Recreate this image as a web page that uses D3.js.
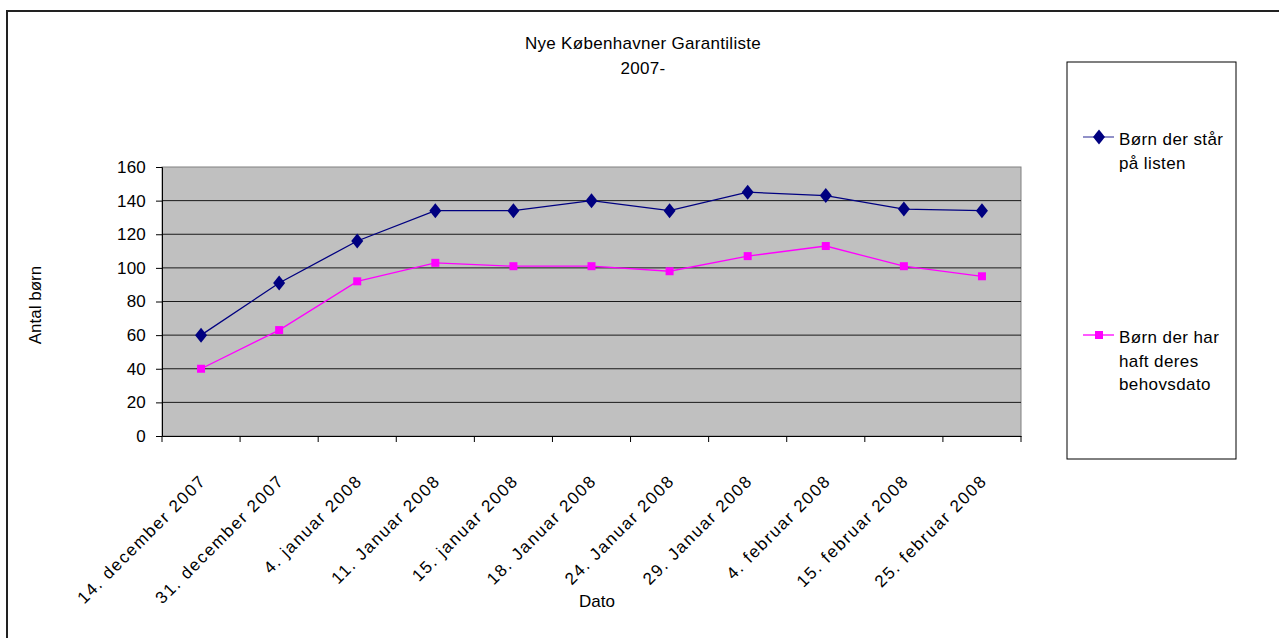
<!DOCTYPE html>
<html>
<head>
<meta charset="utf-8">
<script src="https://cdn.jsdelivr.net/npm/d3@7"></script>
<style>
  body { margin: 0; background: #fff; }
  text { font-family: "Liberation Sans", Arial, sans-serif; fill: #000; }
</style>
</head>
<body>
<div id="chart"></div>
<script>
const dates = ["14. december 2007", "31. december 2007", "4. januar 2008", "11. Januar 2008",
    "15. januar 2008", "18. Januar 2008", "24. Januar 2008", "29. Januar 2008",
    "4. februar 2008", "15. februar 2008", "25. februar 2008"];
const onList = [60, 91, 116, 134, 134, 140, 134, 145, 143, 135, 134];
const hadNeedDate = [40, 63, 92, 103, 101, 101, 98, 107, 113, 101, 95];
const yTicks = [0, 20, 40, 60, 80, 100, 120, 140, 160];
const seriesNames = [["Børn der står", "på listen"], ["Børn der har", "haft deres", "behovsdato"]];

const W = 1279, H = 638;
const plot = {left: 162, top: 167, right: 1021, bottom: 436};
const fs = 17;

const svg = d3.select("#chart").append("svg")
    .attr("width", W).attr("height", H);

// outer chart frame
svg.append("rect")
    .attr("x", 7).attr("y", 11).attr("width", W).attr("height", H)
    .attr("fill", "none").attr("stroke", "#222").attr("stroke-width", 2);

const x = d3.scaleBand().domain(dates).range([plot.left, plot.right]);
const y = d3.scaleLinear().domain([0, 160]).range([plot.bottom, plot.top]);

svg.append("rect")
    .attr("x", plot.left).attr("y", plot.top)
    .attr("width", plot.right - plot.left).attr("height", plot.bottom - plot.top)
    .attr("fill", "#c0c0c0").attr("stroke", "#808080").attr("stroke-width", 1);

// gridlines
svg.append("g").selectAll("line")
    .data(yTicks.filter(d => d > 0 && d < 160))
    .join("line")
    .attr("x1", plot.left).attr("x2", plot.right)
    .attr("y1", d => y(d)).attr("y2", d => y(d))
    .attr("stroke", "#1a1a1a").attr("stroke-width", 1);

// y axis
const yAxis = svg.append("g")
    .attr("transform", `translate(${plot.left},0)`)
    .call(d3.axisLeft(y).tickValues(yTicks).tickSize(6).tickPadding(10));
yAxis.select(".domain").attr("stroke", "#000");
yAxis.selectAll("text").attr("font-size", fs).attr("letter-spacing", 0.2)
    .style("font-family", null);

// x axis
const xAxis = svg.append("g")
    .attr("transform", `translate(0,${plot.bottom})`)
    .call(d3.axisBottom(x).tickSize(0).tickFormat(""));
xAxis.select(".domain").attr("stroke", "#000");
const edges = dates.map(d => x(d)).concat([plot.right]);
xAxis.selectAll(".edge").data(edges).join("line")
    .attr("x1", d => d).attr("x2", d => d)
    .attr("y1", 0).attr("y2", 6)
    .attr("stroke", "#000");

svg.append("g").selectAll("text")
    .data(dates)
    .join("text")
    .attr("transform", d => `translate(${x(d) + x.bandwidth() / 2 + 6},${plot.bottom + 46}) rotate(-45)`)
    .attr("text-anchor", "end")
    .attr("font-size", fs)
    .attr("letter-spacing", 1.6)
    .text(d => d);

// lines
const cx = i => x(dates[i]) + x.bandwidth() / 2;
const lineGen = d3.line()
    .x((d, i) => cx(i))
    .y(d => y(d));

svg.append("path").datum(onList)
    .attr("d", lineGen).attr("fill", "none")
    .attr("stroke", "#000080").attr("stroke-width", 1.3);
svg.append("path").datum(hadNeedDate)
    .attr("d", lineGen).attr("fill", "none")
    .attr("stroke", "#ff00ff").attr("stroke-width", 1.3);

const diamond = "M0,-7.5L6,0L0,7.5L-6,0Z";
svg.append("g").selectAll("path")
    .data(onList)
    .join("path")
    .attr("d", diamond)
    .attr("transform", (d, i) => `translate(${cx(i)},${y(d)})`)
    .attr("fill", "#000080");

svg.append("g").selectAll("rect")
    .data(hadNeedDate)
    .join("rect")
    .attr("x", (d, i) => cx(i) - 4)
    .attr("y", d => y(d) - 4)
    .attr("width", 8).attr("height", 8)
    .attr("fill", "#ff00ff");

// title
svg.append("text").attr("x", 643).attr("y", 49)
    .attr("text-anchor", "middle").attr("font-size", fs).attr("letter-spacing", 0.3)
    .text("Nye Københavner Garantiliste");
svg.append("text").attr("x", 643).attr("y", 74)
    .attr("text-anchor", "middle").attr("font-size", fs).attr("letter-spacing", 0.3)
    .text("2007-");

// axis titles
svg.append("text").attr("x", 597).attr("y", 607)
    .attr("text-anchor", "middle").attr("font-size", fs)
    .text("Dato");
svg.append("text")
    .attr("transform", "translate(41,305) rotate(-90)")
    .attr("text-anchor", "middle").attr("font-size", fs)
    .text("Antal børn");

// legend
const legend = svg.append("g");
legend.append("rect")
    .attr("x", 1067).attr("y", 62).attr("width", 169).attr("height", 397)
    .attr("fill", "#fff").attr("stroke", "#000").attr("stroke-width", 1);

const legendY = [137, 335];
const colors = ["#000080", "#ff00ff"];
const lineColors = ["#5555aa", "#ff00ff"];
seriesNames.forEach((lines, k) => {
    legend.append("line")
        .attr("x1", 1083).attr("x2", 1114)
        .attr("y1", legendY[k]).attr("y2", legendY[k])
        .attr("stroke", lineColors[k]).attr("stroke-width", 1.3);
    if (k === 0) {
        legend.append("path").attr("d", diamond)
            .attr("transform", `translate(1099,${legendY[k]})`)
            .attr("fill", colors[k]);
    } else {
        legend.append("rect")
            .attr("x", 1099 - 4).attr("y", legendY[k] - 4)
            .attr("width", 8).attr("height", 8).attr("fill", colors[k]);
    }
    legend.append("text")
        .attr("x", 1119).attr("y", legendY[k] + 8)
        .attr("font-size", fs).attr("letter-spacing", 0.4)
        .selectAll("tspan").data(lines).join("tspan")
        .attr("x", 1119).attr("dy", (d, i) => i === 0 ? 0 : 23.5)
        .text(d => d);
});
</script>
</body>
</html>
